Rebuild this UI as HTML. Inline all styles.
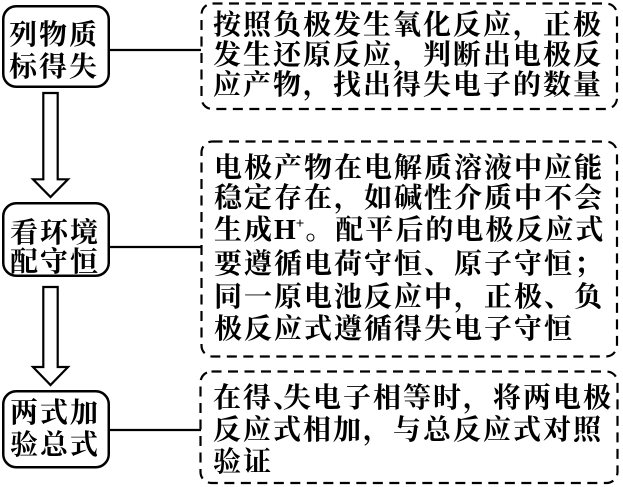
<!DOCTYPE html>
<html>
<head>
<meta charset="utf-8">
<style>
  html, body { margin:0; padding:0; background:#fff; }
  body { width:623px; height:487px; overflow:hidden; }
  svg { display:block; }
  text { font-family: "Liberation Serif", "Noto Serif CJK SC", serif; font-weight: bold; font-size: 28px; letter-spacing: 2px; fill:#000; }
</style>
</head>
<body>
<svg width="623" height="487" viewBox="0 0 623 487" xmlns="http://www.w3.org/2000/svg">
  <!-- left solid boxes -->
  <rect x="3.25" y="6.25" width="105.5" height="80.5" rx="13" ry="13" fill="#fff" stroke="#000" stroke-width="2.5"/>
  <rect x="3.25" y="203.25" width="105.5" height="72.5" rx="13" ry="13" fill="#fff" stroke="#000" stroke-width="2.5"/>
  <rect x="3.25" y="391.25" width="105.5" height="76" rx="13" ry="13" fill="#fff" stroke="#000" stroke-width="2.5"/>

  <!-- connectors -->
  <line x1="110" y1="50" x2="201" y2="50" stroke="#000" stroke-width="2.2"/>
  <line x1="110" y1="247" x2="201" y2="247" stroke="#000" stroke-width="2.2"/>
  <line x1="110" y1="430" x2="201" y2="430" stroke="#000" stroke-width="2.2"/>

  <!-- hollow arrows -->
  <polygon points="43.3,93 57.7,93 57.7,179.3 68,179.3 50.5,197 33,179.3 43.3,179.3" fill="#fff" stroke="#000" stroke-width="2.2" stroke-linejoin="miter"/>
  <polygon points="43.3,287 57.7,287 57.7,367 68,367 50.5,385 33,367 43.3,367" fill="#fff" stroke="#000" stroke-width="2.2" stroke-linejoin="miter"/>

  <!-- dashed boxes -->
  <rect x="201.5" y="3.5" width="415.5" height="105.5" rx="11" ry="11" fill="none" stroke="#000" stroke-width="2.2" stroke-dasharray="10 6.5"/>
  <rect x="201.5" y="141.5" width="415.5" height="215" rx="11" ry="11" fill="none" stroke="#000" stroke-width="2.2" stroke-dasharray="10 6.5"/>
  <rect x="200.5" y="371.5" width="417" height="111.5" rx="11" ry="11" fill="none" stroke="#000" stroke-width="2.2" stroke-dasharray="10 6.5"/>

  <!-- left box labels -->
  <text x="9" y="44">列物质</text>
  <text x="9" y="76">标得失</text>
  <text x="10" y="242">看环境</text>
  <text x="10" y="271">配守恒</text>
  <text x="10" y="422">两式加</text>
  <text x="10" y="454">验总式</text>

  <!-- box A -->
  <text x="213" y="34">按照负极发生氧化反应，正极</text>
  <text x="213" y="64">发生还原反应，判断出电极反</text>
  <text x="213" y="94">应产物，找出得失电子的数量</text>

  <!-- box B -->
  <text x="214" y="177">电极产物在电解质溶液中应能</text>
  <text x="214" y="207">稳定存在，如碱性介质中不会</text>
  <text x="214" y="239">生成<tspan letter-spacing="0">H</tspan><tspan font-size="15" dy="-11" letter-spacing="1">+</tspan><tspan dy="11">。配平后的电极反应式</tspan></text>
  <text x="214" y="273">要遵循电荷守恒、原子守恒；</text>
  <text x="214" y="306">同一原电池反应中，正极、负</text>
  <text x="214" y="338">极反应式遵循得失电子守恒</text>

  <!-- box C -->
  <text x="213" y="407">在得、<tspan dx="-20">失电子相等时，将两电极</tspan></text>
  <text x="213" y="439">反应式相加，与总反应式对照</text>
  <text x="213" y="471">验证</text>
</svg>
</body>
</html>
